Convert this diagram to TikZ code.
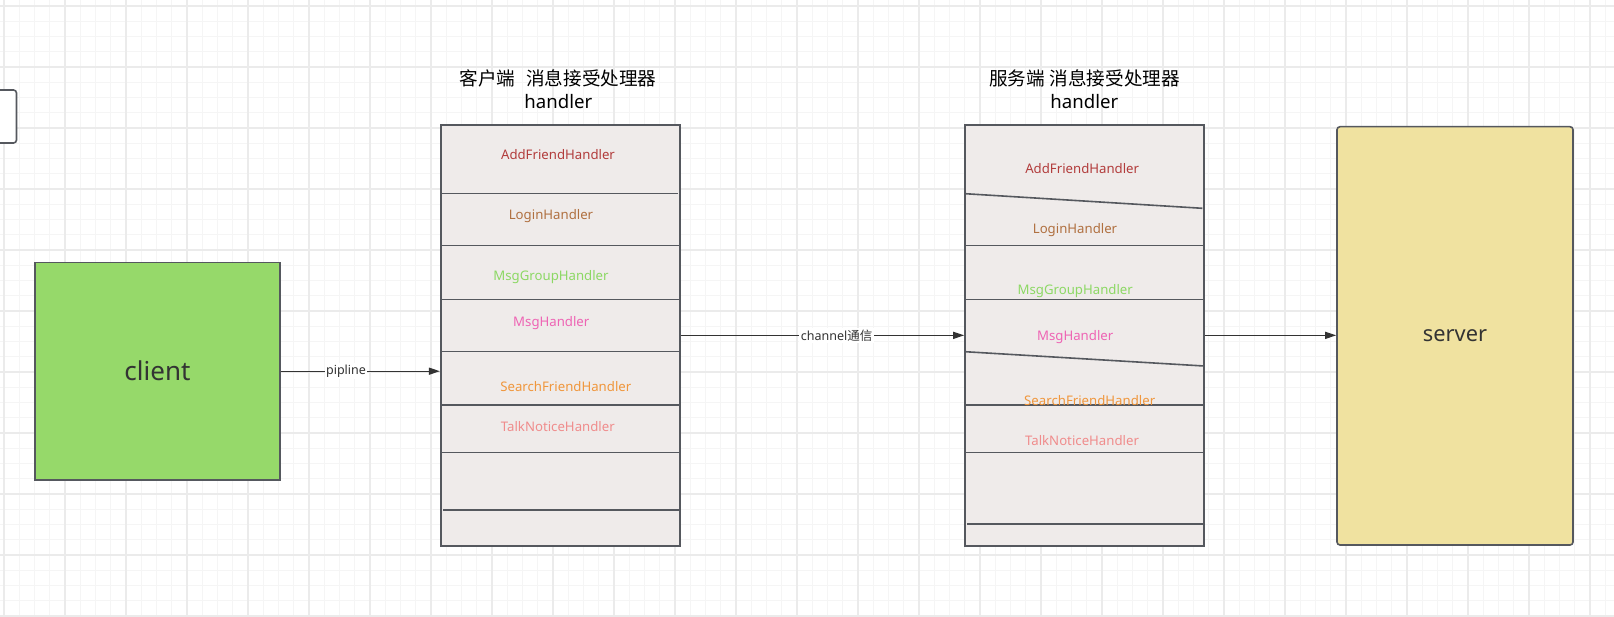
\documentclass[tikz,border=0pt]{standalone}
\usepackage{fontspec}
\setmainfont{Noto Sans}
\newfontfamily\cjk{Noto Sans CJK SC}
\usetikzlibrary{arrows.meta}
\definecolor{stackfill}{HTML}{EFEBEA}
\definecolor{edge}{HTML}{55585E}
\definecolor{clientgreen}{HTML}{96D96A}
\definecolor{serveryellow}{HTML}{F0E2A0}
\definecolor{txtdark}{HTML}{333333}
\definecolor{cAdd}{HTML}{B23C3C}
\definecolor{cLogin}{HTML}{B07040}
\definecolor{cGroup}{HTML}{8CD864}
\definecolor{cMsg}{HTML}{EE64B4}
\definecolor{cSearch}{HTML}{F0963C}
\definecolor{cTalk}{HTML}{F08C8C}
\definecolor{gridminor}{HTML}{F5F5F5}
\definecolor{gridmajor}{HTML}{EBEBEB}
\begin{document}
\begin{tikzpicture}[x=1pt,y=-1pt,
  minorline/.style={draw=gridminor,line width=1pt},
  majorline/.style={draw=gridmajor,line width=1.4pt},
  stackbox/.style={draw=edge,line width=1.6pt,fill=stackfill,inner sep=0pt},
  bigbox/.style={draw=edge,line width=1.6pt,inner sep=0pt,text=txtdark},
  divider/.style={draw=edge,line width=1.6pt},
  hlabel/.style={anchor=base,inner sep=0pt,font=\fontsize{13.2}{15}\selectfont},
  title/.style={anchor=base,inner sep=0pt,text=black,font=\fontsize{18.6}{21}\selectfont},
  conn/.style={draw=txtdark,line width=1.3pt,-{Triangle[length=11pt,width=7pt]}},
  clabel/.style={fill=white,inner sep=1.5pt,text=txtdark,font=\fontsize{12.5}{14}\selectfont}]
\useasboundingbox (0,0) rectangle (1614,617);
\clip (0,0) rectangle (1614,617);
\fill[white] (0,0) rectangle (1614,617);
% grid
\foreach \k in {0,...,106} {\draw[minorline] ({4+15.25*\k},0) -- ({4+15.25*\k},617);}
\foreach \k in {0,...,40} {\draw[minorline] (0,{6+15.25*\k}) -- (1614,{6+15.25*\k});}
\foreach \k in {0,...,26} {\draw[majorline] ({4+61*\k},0) -- ({4+61*\k},617);}
\foreach \k in {0,...,10} {\draw[majorline] (0,{6+61*\k}) -- (1614,{6+61*\k});}
% partial box at the left edge
\draw[draw=edge,line width=1.6pt,fill=white,rounded corners=3pt] (-30,90) rectangle (16.5,143);
% titles
\node[title] (lt1) at (558,85.8) {\cjk 客户端\hspace{11pt}消息接受处理器};
\node[title] (lt2) at (558.3,109) {handler};
\node[title] (rt1) at (1084.5,85.8) {\cjk 服务端\hspace{5pt}消息接受处理器};
\node[title] (rt2) at (1084.3,109) {handler};
% boxes
\node[bigbox,fill=clientgreen,minimum width=245pt,minimum height=217pt,font=\fontsize{26}{30}\selectfont] (client) at (157.5,371.2) {client};
\node[stackbox,minimum width=239.3pt,minimum height=420.7pt] (lstack) at (560.35,335.35) {};
\node[stackbox,minimum width=239pt,minimum height=420.7pt] (rstack) at (1084.5,335.35) {};
\node[bigbox,fill=serveryellow,rounded corners=3pt,minimum width=236pt,minimum height=418.3pt,font=\fontsize{21.8}{26}\selectfont] (server) at (1455,335.85) {server};
% left stack dividers
\draw[divider] (440.7,193.7) -- (677.7,193.7);
\foreach \yy in {245.7,299.7,351.7,404.7,452.3} {\draw[divider] (440.7,\yy) -- (680,\yy);}
\draw[divider] (443.3,509.7) -- (680,509.7);
% right stack dividers
\draw[divider] (965,193.7) -- (1202.3,208.3);
\draw[divider] (965,351.7) -- (1204,366);
\foreach \yy in {245.7,299.7,404.7,452.3} {\draw[divider] (965,\yy) -- (1204,\yy);}
\draw[divider] (967.3,523.7) -- (1204,523.7);
% left stack labels
\node[hlabel,text=cAdd] (la) at (558,159.7) {AddFriendHandler};
\node[hlabel,text=cLogin] (lb) at (551,220) {LoginHandler};
\node[hlabel,text=cGroup] (lc) at (551,280.4) {MsgGroupHandler};
\node[hlabel,text=cMsg] (ld) at (551.3,326.7) {MsgHandler};
\node[hlabel,text=cSearch] (le) at (565.8,391.7) {SearchFriendHandler};
\node[hlabel,text=cTalk] (lf) at (557.8,431.4) {TalkNoticeHandler};
% right stack labels
\node[hlabel,text=cAdd] (ra) at (1082.2,174) {AddFriendHandler};
\node[hlabel,text=cLogin] (rb) at (1075,233.7) {LoginHandler};
\node[hlabel,text=cGroup] (rc) at (1075.2,294.7) {MsgGroupHandler};
\node[hlabel,text=cMsg] (rd) at (1075.2,341) {MsgHandler};
\node[hlabel,text=cSearch] (re) at (1089.7,405.7) {SearchFriendHandler};
\node[hlabel,text=cTalk] (rf) at (1082,445.7) {TalkNoticeHandler};
% connectors
\draw[conn] (client.east) -- node[clabel,pos=0.41] {pipline} (client.east -| lstack.west);
\draw[conn] (lstack.east) -- node[clabel,pos=0.55] {channel{\cjk 通信}} (rstack.west);
\draw[conn] (rstack.east) -- (rstack.east -| server.west);
\end{tikzpicture}
\end{document}
